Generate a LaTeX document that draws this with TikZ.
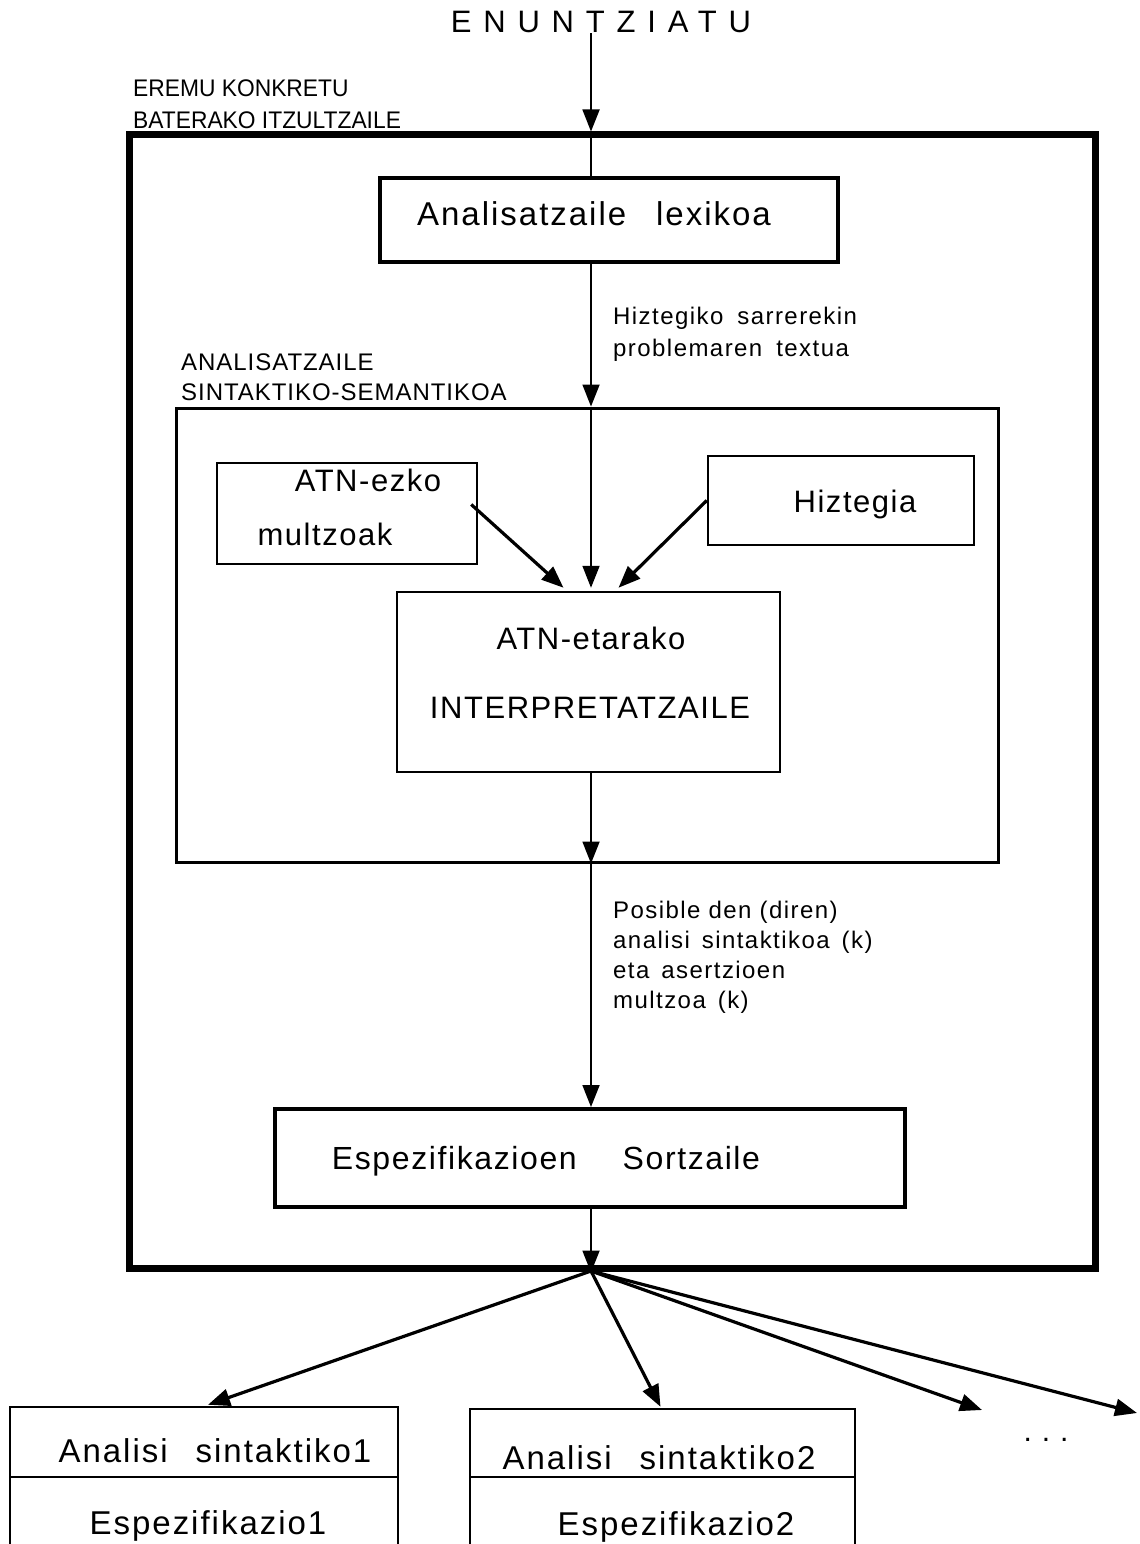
\documentclass[tikz,border=0pt]{standalone}
\usepackage{fontspec}
\setmainfont{Liberation Sans}
\newfontfamily\narrowfont[FakeStretch=0.95]{Liberation Sans}
\usetikzlibrary{arrows.meta,calc}
\newcommand\fsz[1]{\fontsize{#1bp}{#1bp}\selectfont}
\begin{document}
\begin{tikzpicture}[x=1bp,y=-1bp,
  box/.style={draw, line width=2.5bp, inner sep=0pt},
  txt/.style={inner sep=0pt, font=\addfontfeature{LetterSpace=5}\fsz{31}},
  bigtxt/.style={inner sep=0pt, font=\addfontfeature{LetterSpace=6}\fsz{33}},
  lbl/.style={inner sep=0pt, anchor=west, align=left,
              font=\addfontfeature{LetterSpace=6}\fsz{24}},
  tip/.style={-{Triangle[length=22bp,width=17bp]}},
  vline/.style={line width=1.8bp},
  dline/.style={line width=3.2bp}]
\useasboundingbox (0,0) rectangle (1139,1544);

% vertical axis of the flow
\coordinate (spine) at (591,0);

% title
\node[inner sep=0pt, font=\addfontfeature{LetterSpace=38}\fsz{31}] (enun) at (601,22) {ENUNTZIATU};

% outer frame
\node[box, line width=7bp, minimum width=965bp, minimum height=1133bp] (outer) at (612.5,701.5) {};
\node[inner sep=0pt, anchor=west, align=left, font=\narrowfont\fsz{24}] (outerlbl) at (133,104)
  {EREMU KONKRETU\\[8bp]BATERAKO ITZULTZAILE};

% lexical analyser
\node[box, line width=4bp, minimum width=458bp, minimum height=84bp] (lex) at (609,220) {};
\node[bigtxt] (lext) at (594,214) {Analisatzaile\hspace{30bp}lexikoa};

\node[lbl] (lexout) at (613,334) {Hiztegiko\hspace{14bp}sarrerekin\\[8bp]problemaren\hspace{14bp}textua};

% syntactic-semantic analyser
\node[box, line width=3bp, minimum width=821bp, minimum height=454bp] (inner) at (587.5,635) {};
\node[lbl, font=\addfontfeature{LetterSpace=4}\fsz{24}] (innerlbl) at (181,377) {ANALISATZAILE\\[6bp]SINTAKTIKO-SEMANTIKOA};

\node[box, minimum width=260bp, minimum height=101bp] (atn) at (347,513.5) {};
\node[txt] (atnt1) at (368,480) {ATN-ezko};
\node[txt] (atnt2) at (325,534) {multzoak};

\node[box, minimum width=266bp, minimum height=89bp] (hiz) at (841,500.5) {};
\node[txt] (hizt) at (855,504) {Hiztegia};

\node[box, minimum width=383bp, minimum height=180bp] (interp) at (588.5,682) {};
\node[txt] (interpt1) at (591,638) {ATN-etarako};
\node[txt] (interpt2) at (590,708) {INTERPRETATZAILE};

\node[lbl] (interpout) at (613,957)
  {Posible den (diren)\\[6bp]analisi\hspace{12bp}sintaktikoa\hspace{12bp}(k)\\[6bp]eta\hspace{12bp}asertzioen\\[6bp]multzoa\hspace{12bp}(k)};

% specification generator
\node[box, line width=4bp, minimum width=630bp, minimum height=98bp] (esp) at (590,1158) {};
\node[bigtxt, font=\addfontfeature{LetterSpace=5}\fsz{32}] (espt) at (546,1161) {Espezifikazioen\hspace{46bp}Sortzaile};

% result boxes (continuing past the lower edge)
\node[box, minimum width=388bp, minimum height=153bp] (res1) at (204,1483.5) {};
\draw[line width=2.5bp] (10,1477) -- (398,1477);
\node[bigtxt] (res1a) at (215,1451) {Analisi\hspace{28bp}sintaktiko1};
\node[bigtxt] (res1b) at (208,1526) {Espezifikazio1};

\node[box, minimum width=385bp, minimum height=151bp] (res2) at (662.5,1484.5) {};
\draw[line width=2.5bp] (470,1477) -- (855,1477);
\node[bigtxt] (res2a) at (659,1458) {Analisi\hspace{28bp}sintaktiko2};
\node[bigtxt] (res2b) at (676,1527) {Espezifikazio2};

\node[inner sep=0pt, font=\fsz{30}] (dots) at (1046,1440) {.\hspace{10bp}.\hspace{10bp}.};

% connectors along the main axis
\draw[vline, tip] (enun.south -| spine) -- (outer.north -| spine);
\draw[vline] (outer.north -| spine) -- (lex.north -| spine);
\draw[vline, tip] (lex.south -| spine) -- (inner.north -| spine);
\draw[vline, tip] (inner.north -| spine) -- ($(interp.north -| spine)+(0,-3)$);
\draw[dline, tip] ($(atn.east)+(-7,-9)$) -- ($(interp.north)+(-25,-3)$);
\draw[dline, tip] (hiz.west) -- ($(interp.north)+(30,-3)$);
\draw[vline, tip] (interp.south -| spine) -- (inner.south -| spine);
\draw[vline, tip] (inner.south -| spine) -- (esp.north -| spine);
\draw[vline, tip] (esp.south -| spine) -- ($(outer.south -| spine)+(0,1)$);

% fan-out of results
\coordinate (fan) at (591,1271);
\coordinate (more1) at (982,1410);
\coordinate (more2) at (1137,1413);
\draw[dline, tip] (fan) -- ($(res1.north)+(4,-1)$);
\draw[dline, tip] (fan) -- ($(res2.north)+(-2,-1)$);
\draw[dline, tip] (fan) -- (more1);
\draw[dline, tip] (fan) -- (more2);
\end{tikzpicture}
\end{document}
